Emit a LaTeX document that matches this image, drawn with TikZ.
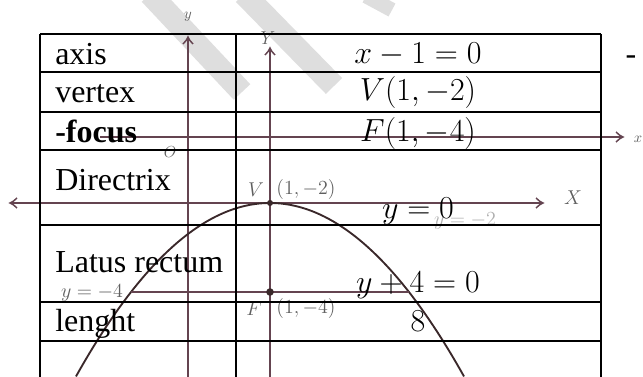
\documentclass[tikz,border=0pt]{standalone}
\usepackage{fix-cm}
\usepackage{amsmath}
\usepackage{xcolor}
\usepackage{fontspec}
\setmainfont{Liberation Serif}
\usepackage{tikz}

\definecolor{axiscol}{RGB}{100,68,80}
\definecolor{parcol}{RGB}{58,40,42}
\definecolor{lblgray}{RGB}{95,95,95}
\definecolor{faintgray}{RGB}{175,175,175}
\definecolor{wmgray}{RGB}{222,222,222}

\begin{document}
\begin{tikzpicture}[x=0.75pt,y=0.75pt,yscale=-1,xscale=1,
  tbl/.style={line width=1.3pt},
  axisln/.style={color=axiscol, line width=1.1pt},
  txt/.style={inner sep=0.75pt, font=\fontsize{24}{28}\selectfont},
  glbl/.style={inner sep=0.75pt, color=lblgray, font=\fontsize{15}{17}\selectfont}]

\useasboundingbox (0,0) rectangle (643,377);

% watermark
\draw [color=wmgray, line width=17pt]    (150,-6) -- (242,92) ;

\draw [color=wmgray, line width=17pt]    (244,-6) -- (334,86) ;

\draw [color=wmgray, line width=11pt]    (366,-4) -- (392,10) ;

% axes
\draw [axisln]    (188,377) -- (188,39) ;
\draw [shift={(188,37)}, rotate = 90] [color=axiscol][line width=1.1]    (7,-5) .. controls (4.5,-2.5) and (2,-0.5) .. (0,0) .. controls (2,0.5) and (4.5,2.5) .. (7,5)   ;

\draw [axisln]    (270,377) -- (270,50) ;
\draw [shift={(270,48)}, rotate = 90] [color=axiscol][line width=1.1]    (7,-5) .. controls (4.5,-2.5) and (2,-0.5) .. (0,0) .. controls (2,0.5) and (4.5,2.5) .. (7,5)   ;

\draw [axisln]    (100,137) -- (621,137) ;
\draw [shift={(623,137)}, rotate = 180] [color=axiscol][line width=1.1]    (7,-5) .. controls (4.5,-2.5) and (2,-0.5) .. (0,0) .. controls (2,0.5) and (4.5,2.5) .. (7,5)   ;

\draw [axisln]    (12,203) -- (541,203) ;
\draw [shift={(543,203)}, rotate = 180] [color=axiscol][line width=1.1]    (7,-5) .. controls (4.5,-2.5) and (2,-0.5) .. (0,0) .. controls (2,0.5) and (4.5,2.5) .. (7,5)   ;
\draw [shift={(10,203)}, rotate = 0] [color=axiscol][line width=1.1]    (7,-5) .. controls (4.5,-2.5) and (2,-0.5) .. (0,0) .. controls (2,0.5) and (4.5,2.5) .. (7,5)   ;

% parabola and latus rectum
\draw [color=parcol, line width=1.4pt]  plot [domain=-194:194, samples=90] ({270+\x},{203+(\x/10)*(\x/10)/2.17}) ;

\coordinate (lrleft) at (131,292) ;
\coordinate (lrright) at (409,292) ;
\draw [axisln]    (lrleft) -- (lrright) ;

\node (vtx) [circle, fill=parcol, inner sep=1.6pt] at (270,203) {} ;
\node (fcs) [circle, fill=parcol, inner sep=2pt] at (270,292) {} ;

% graph labels
\draw (188,17) node (ylbl) [glbl, font=\fontsize{11}{12}\selectfont] {$y$};

\draw (268,38) node (Ylbl) [glbl, font=\fontsize{14}{15}\selectfont] {$Y$};

\draw (638,139) node (xlbl) [glbl, font=\fontsize{11}{12}\selectfont] {$x$};

\draw (573,198) node (Xlbl) [glbl, font=\fontsize{15}{16}\selectfont] {$X$};

\draw (170,152) node (olbl) [glbl, font=\fontsize{12}{14}\selectfont] {$O$};

\draw (256,190) node (vlbl) [glbl] {$V$};

\draw (306,190) node (vcoord) [glbl] {$(1,-2)$};

\draw (254,309) node (flbl) [glbl] {$F$};

\draw (306,309) node (fcoord) [glbl] {$(1,-4)$};

\draw (92,293) node (ymfour) [glbl] {$y=-4$};

\draw (465,221) node (ymtwo) [glbl, color=faintgray] {$y=-2$};

% table
\draw [tbl]    (40,34) -- (40,377) ;

\draw [tbl]    (236,34) -- (236,377) ;

\draw [tbl]    (601,34) -- (601,377) ;

\draw [tbl]    (40,34) -- (601,34) ;

\draw [tbl]    (40,72) -- (601,72) ;

\draw [tbl]    (40,112) -- (601,112) ;

\draw [tbl]    (40,150) -- (601,150) ;

\draw [tbl]    (40,225) -- (601,225) ;

\draw [tbl]    (40,302) -- (601,302) ;

\draw [tbl]    (40,341) -- (601,341) ;

% table texts
\draw (54,65) node (axis) [txt, anchor=base west] {axis};

\draw (54,103) node (vertex) [txt, anchor=base west] {vertex};

\draw (54,143) node (focus) [txt, anchor=base west] {\textbf{-focus}};

\draw (54,191) node (directrix) [txt, anchor=base west] {Directrix};

\draw (54,273) node (latus) [txt, anchor=base west] {Latus rectum};

\draw (54,332) node (lenght) [txt, anchor=base west] {lenght};

\draw (418,64) node (axiseq) [txt, anchor=base] {$x-1=0$};

\draw (418,101) node (vertexeq) [txt, anchor=base] {$V(1,-2)$};

\draw (418,142) node (focuseq) [txt, anchor=base] {$F(1,-4)$};

\draw (418,219) node (directrixeq) [txt, anchor=base] {$y=0$};

\draw (418,293) node (latuseq) [txt, anchor=base] {$y+4=0$};

\draw (418,332) node (lenghteq) [txt, anchor=base] {$8$};

\draw (631,65) node (dash) [txt, anchor=base] {-};

\end{tikzpicture}
\end{document}
